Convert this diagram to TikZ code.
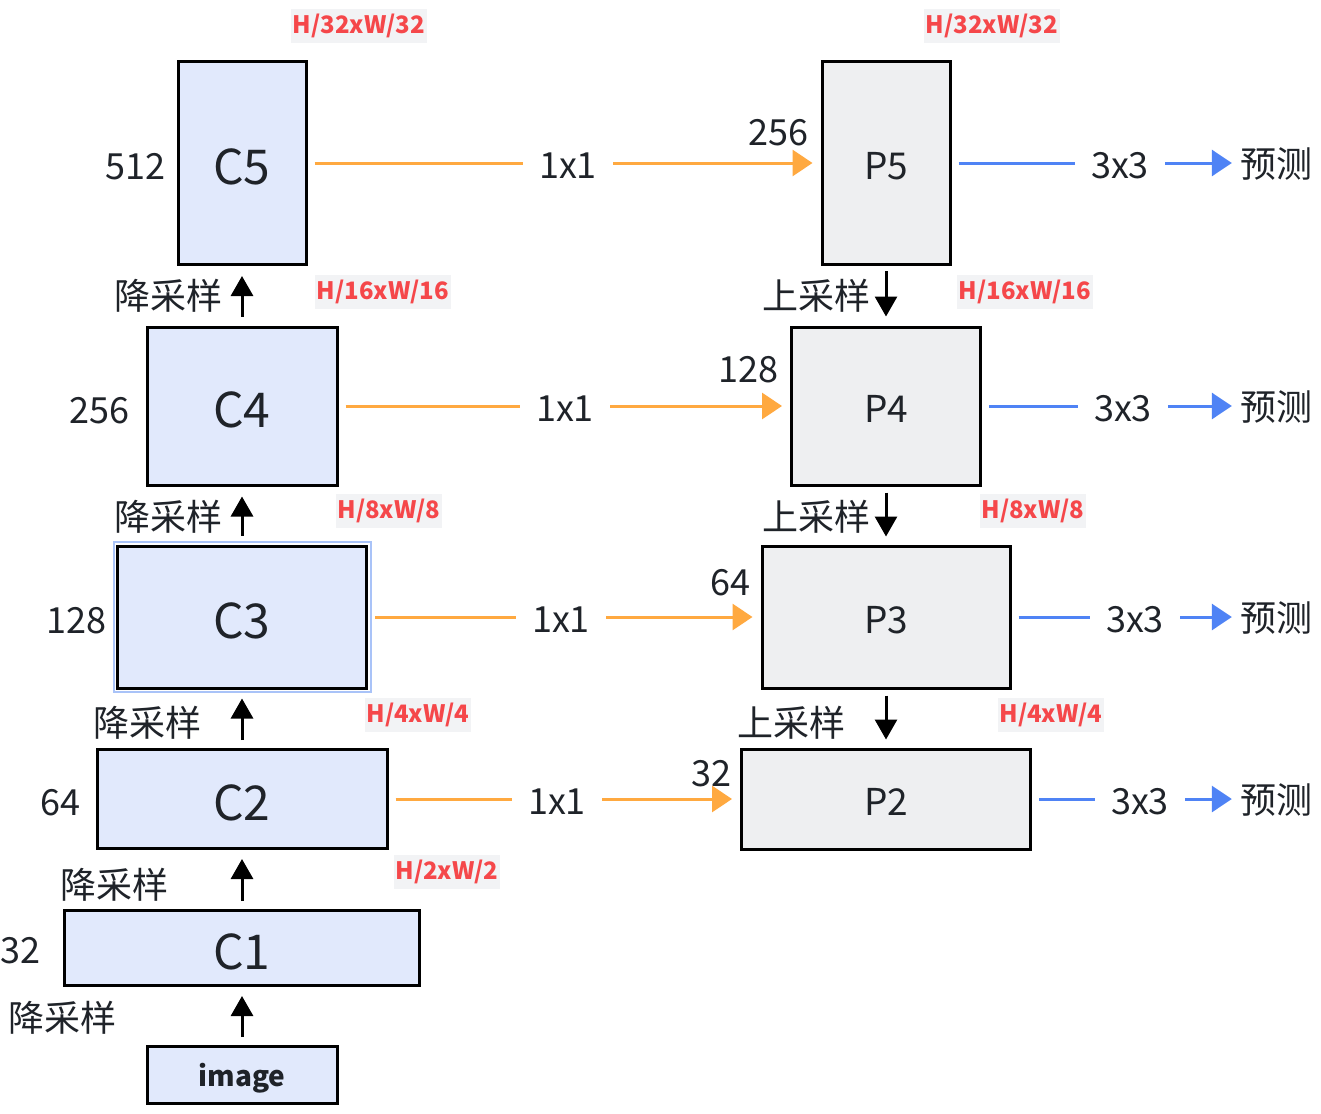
\documentclass[tikz,border=0pt]{standalone}
\usepackage{fontspec}
\setmainfont{Noto Sans CJK SC}
\usetikzlibrary{arrows.meta}
\definecolor{cfill}{HTML}{E1E9FC}
\definecolor{pfill}{HTML}{EEEFF1}
\definecolor{orangeline}{HTML}{FFA940}
\definecolor{blueline}{HTML}{4F83F5}
\definecolor{sizered}{HTML}{F5474A}
\definecolor{sizebg}{HTML}{F2F3F5}
\definecolor{inktext}{HTML}{1F2329}
\definecolor{selblue}{HTML}{A9C3F8}
\tikzset{
 cbox/.style={draw,line width=3pt,fill=cfill,inner sep=0,text=inktext,text height=42pt,text depth=0pt,font=\fontsize{48}{54}\selectfont},
 pbox/.style={draw,line width=3pt,fill=pfill,inner sep=0,text=inktext,text height=32pt,text depth=0pt,font=\fontsize{37}{42}\selectfont},
 imgbox/.style={draw,line width=3pt,fill=cfill,inner sep=0,text=inktext,text height=26pt,text depth=4pt,font=\fontsize{28}{32}\selectfont\bfseries},
 plain/.style={inner sep=0,text=inktext,font=\fontsize{36}{40}\selectfont},
 conv/.style={plain,inner sep=16pt,text height=31pt,text depth=0pt},
 sizetag/.style={fill=sizebg,text=sizered,inner xsep=2pt,inner ysep=5pt,font=\fontsize{24}{28}\selectfont\bfseries},
 sample/.style={line width=3pt,-{Triangle[length=20pt,width=22pt]}},
 lateral/.style={orangeline,line width=3pt},
 lateralarrow/.style={lateral,-{Triangle[length=20pt,width=26pt]}},
 head/.style={blueline,line width=3pt},
 headarrow/.style={head,-{Triangle[length=20pt,width=26pt]}}
}
\begin{document}
\begin{tikzpicture}[x=1pt,y=-1pt]
\useasboundingbox[fill=white] (0,0) rectangle (1321,1113);
% backbone
\node[cbox,minimum width=128,minimum height=203] (C5) at (242,163) {C5};
\node[cbox,minimum width=190,minimum height=158] (C4) at (242,406) {C4};
\node[cbox,minimum width=249,minimum height=142] (C3) at (242,617) {C3};
\node[cbox,minimum width=290,minimum height=99] (C2) at (242,799) {C2};
\node[cbox,minimum width=355,minimum height=75] (C1) at (242,948) {C1};
\node[imgbox,minimum width=190,minimum height=57] (img) at (242,1075) {image};
\draw[selblue,line width=2pt] ([shift={(-2.5pt,-2.5pt)}]C3.south west) rectangle ([shift={(2.5pt,2.5pt)}]C3.north east);
% pyramid
\node[pbox,minimum width=128,minimum height=203] (P5) at (886,163) {P5};
\node[pbox,minimum width=189,minimum height=158] (P4) at (886,406) {P4};
\node[pbox,minimum width=248,minimum height=142] (P3) at (886,617) {P3};
\node[pbox,minimum width=289,minimum height=100] (P2) at (886,799) {P2};
% channels
\node[plain,anchor=east] (n512) at (166,167) {512};
\node[plain,anchor=east] (n256) at (130,411) {256};
\node[plain,anchor=east] (n128) at (107,621) {128};
\node[plain,anchor=east] (n64) at (81,803) {64};
\node[plain,anchor=east] (n32) at (41,951) {32};
\node[plain,anchor=east] (m256) at (809,133) {256};
\node[plain,anchor=east] (m128) at (779,370) {128};
\node[plain,anchor=east] (m64) at (751,583) {64};
\node[plain,anchor=east] (m32) at (732,774) {32};
% sizes
\node[sizetag] (s5) at (359,26) {H/32xW/32};
\node[sizetag] (t5) at (992,26) {H/32xW/32};
\node[sizetag] (s4) at (383,292) {H/16xW/16};
\node[sizetag] (t4) at (1025,292) {H/16xW/16};
\node[sizetag] (s3) at (389,511) {H/8xW/8};
\node[sizetag] (t3) at (1033,511) {H/8xW/8};
\node[sizetag] (s2) at (418,715) {H/4xW/4};
\node[sizetag] (t2) at (1051,715) {H/4xW/4};
\node[sizetag] (s1) at (447,872) {H/2xW/2};
% down sampling
\draw[sample,shorten <=9pt,shorten >=10pt] (C4) -- (C5);
\draw[sample,shorten <=9pt,shorten >=10pt] (C3) -- (C4);
\draw[sample,shorten <=8pt,shorten >=9pt] (C2) -- (C3);
\draw[sample,shorten <=8pt,shorten >=9pt] (C1) -- (C2);
\draw[sample,shorten <=8pt,shorten >=9pt] (img) -- (C1);
\node[plain] (d5) at (168,296) {降采样};
\node[plain] (d4) at (168,517) {降采样};
\node[plain] (d3) at (147,723) {降采样};
\node[plain] (d2) at (114,885) {降采样};
\node[plain] (d1) at (63,1018) {降采样};
% up sampling
\draw[sample,shorten <=5pt,shorten >=9pt] (P5) -- (P4);
\draw[sample,shorten <=6pt,shorten >=8pt] (P4) -- (P3);
\draw[sample,shorten <=6pt,shorten >=8pt] (P3) -- (P2);
\node[plain] (u5) at (816,296) {上采样};
\node[plain] (u4) at (816,517) {上采样};
\node[plain] (u3) at (791,723) {上采样};
% lateral 1x1
\foreach \i/\kx/\ky in {5/568/163,4/565/406,3/561/617,2/557/799}{
 \node[conv] (k\i) at (\kx,\ky) {1x1};
 \draw[lateral,shorten <=7pt] (C\i) -- (k\i);
 \draw[lateralarrow,shorten >=8pt] (k\i) -- (P\i);
}
% heads 3x3
\foreach \i/\hx/\hy in {5/1120/163,4/1123/406,3/1135/617,2/1140/799}{
 \node[conv] (h\i) at (\hx,\hy) {3x3};
 \node[plain,text height=33pt,text depth=4pt] (o\i) at (1276,\hy) {预测};
 \draw[head,shorten <=7pt] (P\i) -- (h\i);
 \draw[headarrow,shorten >=8pt] (h\i) -- (o\i);
}
\end{tikzpicture}
\end{document}
